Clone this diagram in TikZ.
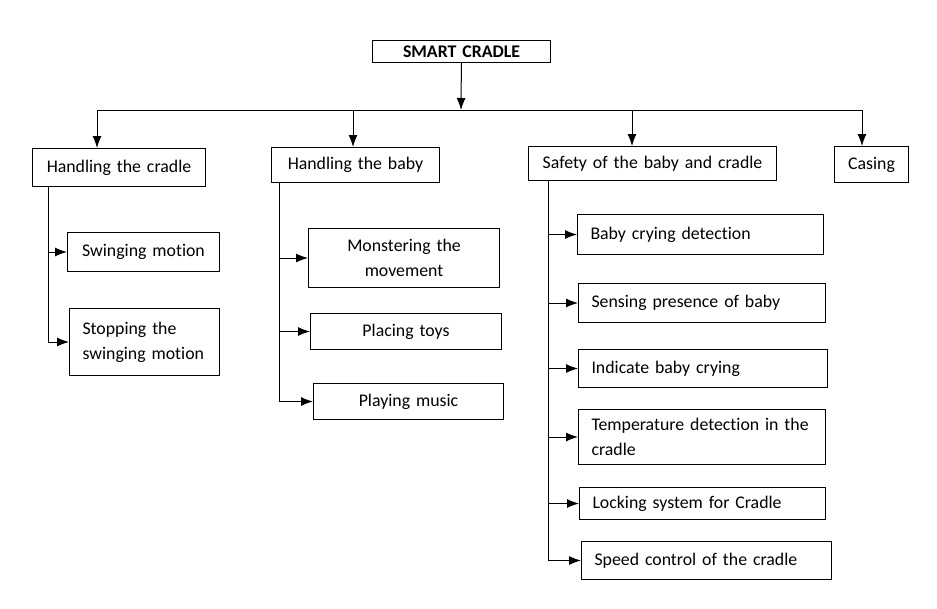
\documentclass[tikz,border=0pt]{standalone}
\usepackage{fontspec}
\setmainfont{Carlito}[Ligatures=NoCommon]
\usetikzlibrary{arrows.meta}
\tikzstyle{box}=[rectangle, draw=black, line width=1pt, anchor=north west, text=black, inner xsep=0pt, inner ysep=0pt, font=\fontsize{17.8}{25}\selectfont]
\tikzstyle{cbox}=[box, align=center]
\tikzstyle{lbox}=[box, align=left, inner xsep=13pt]
\tikzstyle{title}=[box, align=center, font=\fontsize{17.8}{25}\selectfont\bfseries]
\tikzstyle{link}=[line width=1pt, draw=black]
\tikzset{>={Latex[scale=1.6]}}
\begin{document}
\begin{tikzpicture}[x=1pt, y=-1pt]
        \useasboundingbox (0,0) rectangle (937,608);

        \node(top)[title, text width=178pt, minimum height=22pt] at (372,40) {SMART CRADLE};

        % first level
        \node(cradle)[cbox, text width=173pt, minimum height=38pt] at (32,148) {Handling the cradle};
        \node(baby)[cbox, text width=168pt, minimum height=35pt] at (271,147) {Handling the baby};
        \node(safety)[cbox, text width=248pt, minimum height=34pt] at (528,146) {Safety of the baby and cradle};
        \node(casing)[cbox, text width=74pt, minimum height=36pt] at (834,146) {Casing};

        \coordinate (bus) at (461,110);
        \coordinate (busL) at (97,110);
        \coordinate (busB) at (353,110);
        \coordinate (busS) at (632,110);
        \coordinate (busR) at (862,110);
        \draw[link, ->] (top) -- (bus);
        \draw[link] (busL) -- (busR);
        \draw[link, ->] (busL) -- (busL |- cradle.north);
        \draw[link, ->] (busB) -- (busB |- baby.north);
        \draw[link, ->] (busS) -- (busS |- safety.north);
        \draw[link, ->] (busR) -- (busR |- casing.north);

        % handling the cradle
        \node(swing)[cbox, text width=152pt, minimum height=39pt] at (67,232) {Swinging motion};
        \node(stop)[lbox, text width=124pt, minimum height=67pt] at (69,308) {Stopping the\\swinging motion};

        \coordinate (t1) at (48,186);
        \draw[link] (t1) -- (t1 |- stop.west);
        \draw[link, ->] (t1 |- swing.west) -- (swing.west);
        \draw[link, ->] (t1 |- stop.west) -- (stop.west);

        % handling the baby
        \node(monster)[cbox, text width=191pt, minimum height=59pt] at (308,228) {Monstering the\\movement};
        \node(toys)[cbox, text width=191pt, minimum height=36pt] at (310,313) {Placing toys};
        \node(music)[cbox, text width=190pt, minimum height=36pt] at (313,383) {Playing music};

        \coordinate (t2) at (279,182);
        \draw[link] (t2) -- (t2 |- music.west);
        \draw[link, ->] (t2 |- monster.west) -- (monster.west);
        \draw[link, ->] (t2 |- toys.west) -- (toys.west);
        \draw[link, ->] (t2 |- music.west) -- (music.west);

        % safety of the baby and cradle
        \node(crying)[lbox, text width=220pt, minimum height=40pt] at (577,214) {Baby crying detection};
        \node(sensing)[lbox, text width=221pt, minimum height=39pt] at (578,283) {Sensing presence of baby};
        \node(indicate)[lbox, text width=223pt, minimum height=38pt] at (578,349) {Indicate baby crying};
        \node(temp)[lbox, text width=221pt, minimum height=55pt] at (578,409) {Temperature detection in the\\cradle};
        \node(locking)[lbox, text width=220pt, minimum height=32pt] at (579,487) {Locking system for Cradle};
        \node(speed)[lbox, text width=224pt, minimum height=38pt] at (581,541) {Speed control of the cradle};

        \coordinate (t3) at (548,180);
        \draw[link] (t3) -- (t3 |- speed.west);
        \draw[link, ->] (t3 |- crying.west) -- (crying.west);
        \draw[link, ->] (t3 |- sensing.west) -- (sensing.west);
        \draw[link, ->] (t3 |- indicate.west) -- (indicate.west);
        \draw[link, ->] (t3 |- temp.west) -- (temp.west);
        \draw[link, ->] (t3 |- locking.west) -- (locking.west);
        \draw[link, ->] (t3 |- speed.west) -- (speed.west);
\end{tikzpicture}
\end{document}
